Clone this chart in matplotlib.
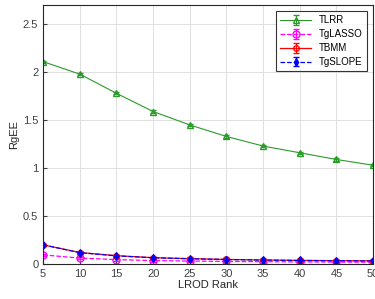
import matplotlib as mpl
mpl.use('Agg')
import matplotlib.pyplot as plt

# data
ranks = [5, 10, 15, 20, 25, 30, 35, 40, 45, 50]
tlrr = [2.11, 1.98, 1.78, 1.59, 1.45, 1.33, 1.23, 1.16, 1.09, 1.03]
tglasso = [0.095, 0.062, 0.046, 0.036, 0.031, 0.027, 0.024, 0.022, 0.020, 0.019]
tbmm = [0.20, 0.12, 0.087, 0.066, 0.056, 0.048, 0.042, 0.038, 0.035, 0.033]
tgslope = [0.20, 0.118, 0.085, 0.065, 0.055, 0.047, 0.041, 0.037, 0.034, 0.032]
err = 0.012

plt.rcParams['font.family'] = ['Liberation Sans', 'DejaVu Sans']

fig = plt.figure(figsize=(3.75, 2.99), dpi=100)
ax = fig.add_axes([0.115, 0.117, 0.88, 0.866])

ax.errorbar(ranks, tlrr, yerr=err, color='#2a9a2a', marker='^', mfc='none', ms=5,
            lw=0.8, capsize=2, elinewidth=0.8, label='TLRR')
ax.errorbar(ranks, tglasso, yerr=err, color='#ff00ff', marker='o', mfc='none', ms=5,
            lw=0.9, ls='--', capsize=2, elinewidth=0.8, label='TgLASSO')
ax.errorbar(ranks, tbmm, yerr=err, color='red', marker='o', mfc='none', ms=4,
            lw=0.9, capsize=2, elinewidth=0.8, label='TBMM')
ax.errorbar(ranks, tgslope, yerr=err, color='blue', marker='d', mfc='blue', ms=4,
            lw=0.9, ls='--', capsize=2, elinewidth=0.8, label='TgSLOPE')

ax.set_xlim(5, 50)
ax.set_ylim(0, 2.7)
ax.set_xticks(ranks)
ax.set_yticks([0, 0.5, 1, 1.5, 2, 2.5])
ax.set_yticklabels(['0', '0.5', '1', '1.5', '2', '2.5'])
ax.tick_params(labelsize=8, colors='#404040', direction='in', length=3)
ax.grid(True, color='#e0e0e0', lw=0.7)
ax.set_axisbelow(True)
for s in ax.spines.values():
    s.set_color('#262626')
    s.set_linewidth(0.8)

ax.set_xlabel('LROD Rank', fontsize=8, color='#262626', labelpad=1)
ax.set_ylabel('RgEE', fontsize=8, color='#262626', labelpad=3)

leg = ax.legend(loc='upper right', fontsize=7, frameon=True, fancybox=False,
                edgecolor='black', borderpad=0.45, labelspacing=0.4,
                handlelength=3.2, borderaxespad=0.6)
leg.get_frame().set_linewidth(0.8)

fig.savefig('out.png', dpi=100)
